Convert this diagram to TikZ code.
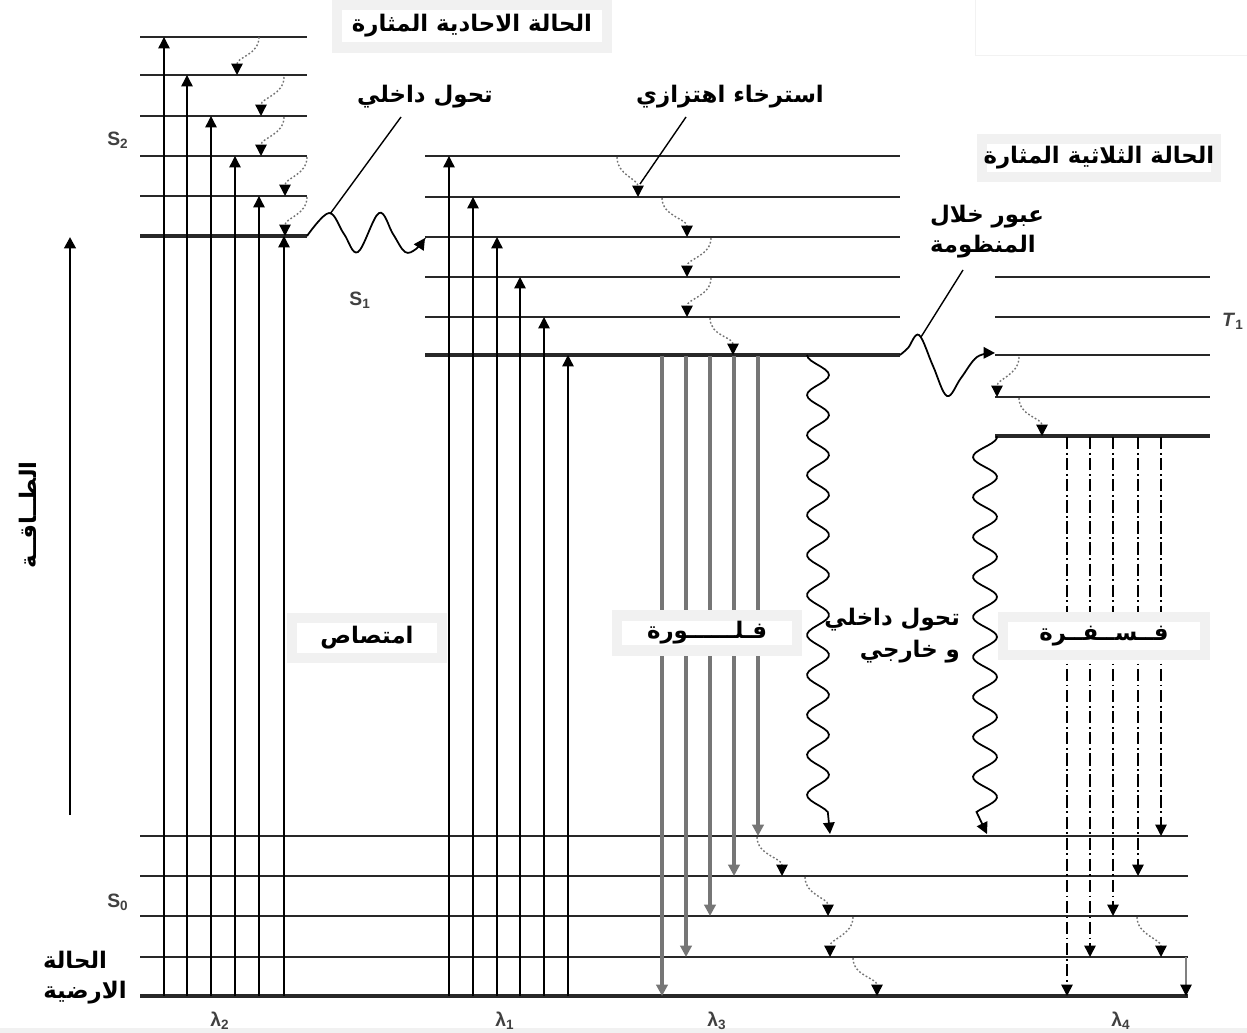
\documentclass[tikz,border=0pt]{standalone}
\usepackage{fontspec}
\setmainfont{Liberation Sans}
\newfontfamily\arabicfont[Script=Arabic]{DejaVu Sans}
\TeXXeTstate=1
\usetikzlibrary{arrows.meta}
\definecolor{fluogray}{RGB}{118,118,118}
\definecolor{boxgray}{RGB}{241,241,241}
\definecolor{levelgray}{RGB}{40,40,40}

\tikzset{
  >={Triangle[length=6.5pt,width=6.5pt]},
  level/.style={line width=1pt, levelgray},
  lowlevel/.style={line width=2.6pt, levelgray},
  absorb/.style={line width=0.8pt, ->},
  fluo/.style={line width=1.8pt, fluogray, ->},
  phos/.style={line width=0.9pt, dash pattern=on 7pt off 2pt on 1pt off 2pt, ->},
  vib/.style={line width=0.8pt, black!55, dash pattern=on 1pt off 1.2pt, -{Triangle[length=6.5pt,width=6.5pt,color=black]}},
  wavy/.style={line width=1pt, ->},
  leader/.style={line width=0.8pt},
  arlabel/.style={font=\arabicfont\fontsize{13}{15}\selectfont\bfseries, inner sep=1pt},
  lbox/.style={arlabel, fill=white, draw=boxgray, line width=6pt},
  stlabel/.style={font=\bfseries\fontsize{11}{12}\selectfont, text=black!75}
}

\begin{document}
\begin{tikzpicture}[x=0.02cm, y=-0.02cm]
        \useasboundingbox (0,0) rectangle (1247,1033);
        \fill[boxgray] (0,1028) rectangle (1247,1033);
        \draw[black!5] (975,-5) rectangle (1260,55);

        % Energy axis
        \draw[line width=1.7pt, ->] (70,815) -- (70,237);
        \node[arlabel, rotate=90, font=\arabicfont\fontsize{13}{15}\selectfont\bfseries] (energy) at (28,515) {\beginR الطــاقــة\endR};

        % Levels
        \foreach \y in {37,75,116,156,196} \draw[level] (140,\y) -- (307,\y);
        \draw[lowlevel] (140,236) -- (307,236);
        \foreach \y in {156,197,237,277,317} \draw[level] (425,\y) -- (900,\y);
        \draw[lowlevel] (425,355) -- (900,355);
        \foreach \y in {277,317,355,397} \draw[level] (995,\y) -- (1210,\y);
        \draw[lowlevel] (995,436) -- (1210,436);
        \foreach \y in {836,876,916,957} \draw[level] (140,\y) -- (1188,\y);
        \draw[lowlevel] (140,996) -- (1188,996);

        % Absorption
        \foreach \x/\y in {164/37,187/75,211/116,235/156,259/196,284/236,449/156,473/197,497/237,520/277,544/317,568/355}
          \draw[absorb] (\x,996) -- (\x,\y);

        % Fluorescence and phosphorescence
        \foreach \x/\y in {662/996,686/957,710/916,734/876,758/836}
          \draw[fluo] (\x,356) -- (\x,\y);
        \foreach \x/\y in {1067/996,1090/957,1113/916,1138/876,1161/836}
          \draw[phos] (\x,437) -- (\x,\y);
        \draw[line width=0.8pt, gray, -{Triangle[length=6.5pt,width=6.5pt,color=black]}] (1186,957) -- (1186,996);

        % Vibrational relaxation
        \foreach \a/\b/\c/\d in {259/37/237/75, 284/77/261/116, 284/117/261/156, 307/157/285/196, 307/197/285/236,
                                 617/157/638/197, 662/198/687/237, 711/238/687/277, 711/278/687/317, 710/318/733/355,
                                 1019/357/997/397, 1019/398/1042/436,
                                 757/837/782/876, 805/877/828/916, 853/917/830/957, 853/958/877/996, 1137/917/1161/957}
          \draw[vib] (\a,\b) .. controls (\a,\b+18) and (\c,\d-18) .. (\c,\d);

        % Internal conversion S2 -> S1
        \coordinate (icpeak) at (330,214);
        \draw[wavy] plot[smooth, tension=0.6] coordinates {(307,236) (329,213) (344,234) (358,252) (379,213) (393,234) (405,252) (416,249) (425,238)};

        % Intersystem crossing S1 -> T1
        \coordinate (iscpeak) at (921,337);
        \draw[wavy] plot[smooth, tension=0.6] coordinates {(900,355) (908,348) (919,335) (933,366) (947,396) (961,378) (977,357) (995,353)};

        % Nonradiative decay to S0
        \draw[wavy] plot[domain=355:812, samples=160] ({818-11*cos(9*(\x-355))}, \x) -- (830,834);
        \draw[wavy] plot[domain=436:812, samples=160] ({985-12*cos(9*(\x-457))}, \x) -- (987,834);

        % State labels
        \node[stlabel] (lS2) at (118,140) {S\textsubscript{2}};
        \node[stlabel] (lS1) at (360,300) {S\textsubscript{1}};
        \node[stlabel] (lS0) at (118,902) {S\textsubscript{0}};
        \node[stlabel] (lT1) at (1233,321) {\textit{T}\textsubscript{1}};
        \node[stlabel] (lam2) at (220,1021) {λ\textsubscript{2}};
        \node[stlabel] (lam1) at (505,1021) {λ\textsubscript{1}};
        \node[stlabel] (lam3) at (717,1021) {λ\textsubscript{3}};
        \node[stlabel] (lam4) at (1121,1021) {λ\textsubscript{4}};

        % Process labels
        \node[lbox, minimum width=5.4cm, minimum height=0.85cm] (single) at (472,26) {\beginR الحالة الاحادية المثارة\endR};
        \node[lbox, minimum width=4.3cm, minimum height=0.76cm] (triplet) at (1099,158) {\beginR الحالة الثلاثية المثارة\endR};
        \node[lbox, minimum width=3.0cm, minimum height=0.8cm] (absorb) at (367,638) {\beginR امتصاص\endR};
        \node[lbox, minimum width=3.6cm, minimum height=0.7cm] (fluolbl) at (707,633) {\beginR فـلــــــورة\endR};
        \node[lbox, minimum width=4.04cm, minimum height=0.76cm] (phoslbl) at (1104,636) {\beginR فــســفــرة\endR};

        \node[arlabel] (ictxt) at (425,97) {\beginR تحول داخلي\endR};
        \node[arlabel] (vibtxt) at (730,97) {\beginR استرخاء اهتزازي\endR};
        \node[arlabel, anchor=west] (isctxt) at (928,217) {\beginR عبور خلال\endR};
        \node[arlabel, anchor=west] (isctxtb) at (928,247) {\beginR المنظومة\endR};
        \node[arlabel, anchor=east] (ictxtb) at (962,620) {\beginR تحول داخلي\endR};
        \node[arlabel, anchor=east] (ictxtc) at (962,652) {\beginR و خارجي\endR};
        \node[arlabel] (ground) at (75,960) {\beginR الحالة\endR};
        \node[arlabel] (groundb) at (85,993) {\beginR الارضية\endR};

        % Leaders
        \coordinate (icfoot) at (401,117);
        \coordinate (vibfoot) at (686,117);
        \coordinate (vibtip) at (640,184);
        \coordinate (iscfoot) at (963,270);
        \draw[leader] (icfoot) -- (icpeak);
        \draw[leader] (vibfoot) -- (vibtip);
        \draw[leader] (iscfoot) -- (iscpeak);

    \end{tikzpicture}
\end{document}
